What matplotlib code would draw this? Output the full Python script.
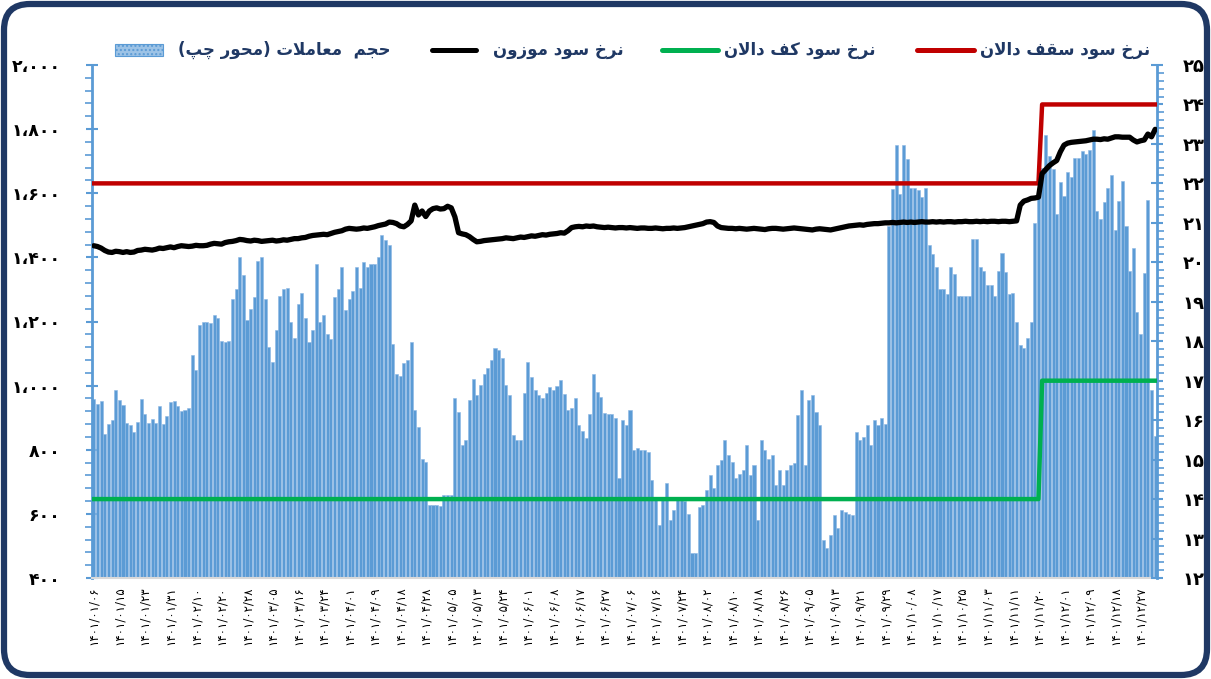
import matplotlib
matplotlib.use('Agg')
import matplotlib.pyplot as plt
from matplotlib.patches import FancyBboxPatch, Rectangle
from matplotlib.lines import Line2D
from matplotlib.ticker import FuncFormatter, MultipleLocator
import matplotlib.transforms as mtransforms

plt.rcParams['font.family'] = ['DejaVu Sans']

# ---- data ----
date_labels = ['۱۴۰۱/۰۱/۰۶', '۱۴۰۱/۰۱/۱۵', '۱۴۰۱/۰۱/۲۳', '۱۴۰۱/۰۱/۳۱', '۱۴۰۱/۰۲/۱۰', '۱۴۰۱/۰۲/۲۰',
               '۱۴۰۱/۰۲/۲۸', '۱۴۰۱/۰۳/۰۵', '۱۴۰۱/۰۳/۱۶', '۱۴۰۱/۰۳/۲۴', '۱۴۰۱/۰۴/۰۱', '۱۴۰۱/۰۴/۰۹',
               '۱۴۰۱/۰۴/۱۸', '۱۴۰۱/۰۴/۲۸', '۱۴۰۱/۰۵/۰۵', '۱۴۰۱/۰۵/۱۳', '۱۴۰۱/۰۵/۲۴', '۱۴۰۱/۰۶/۰۱',
               '۱۴۰۱/۰۶/۰۸', '۱۴۰۱/۰۶/۱۷', '۱۴۰۱/۰۶/۲۷', '۱۴۰۱/۰۷/۰۶', '۱۴۰۱/۰۷/۱۶', '۱۴۰۱/۰۷/۲۴',
               '۱۴۰۱/۰۸/۰۲', '۱۴۰۱/۰۸/۱۰', '۱۴۰۱/۰۸/۱۸', '۱۴۰۱/۰۸/۲۶', '۱۴۰۱/۰۹/۰۵', '۱۴۰۱/۰۹/۱۳',
               '۱۴۰۱/۰۹/۲۱', '۱۴۰۱/۰۹/۲۹', '۱۴۰۱/۱۰/۰۸', '۱۴۰۱/۱۰/۱۷', '۱۴۰۱/۱۰/۲۵', '۱۴۰۱/۱۱/۰۳',
               '۱۴۰۱/۱۱/۱۱', '۱۴۰۱/۱۱/۲۰', '۱۴۰۱/۱۲/۰۱', '۱۴۰۱/۱۲/۰۹', '۱۴۰۱/۱۲/۱۸', '۱۴۰۱/۱۲/۲۷']

# trading volume (left axis), one value per trading day
volume = [
    958, 944, 951, 849, 881, 892, 987, 956, 940, 883, 876, 854, 886, 959, 913, 883, 895, 883, 938, 880,
    906, 948, 952, 935, 922, 925, 930,
    1097, 1050, 1190, 1200, 1200, 1195, 1220, 1212, 1140, 1135, 1140, 1270, 1300, 1400, 1345, 1206, 1240, 1275,
    1390, 1400,
    1270, 1120, 1075, 1175, 1280, 1300, 1306, 1200, 1150, 1255, 1290, 1212, 1135, 1175, 1380,
    1200, 1220, 1160, 1145, 1275, 1300, 1370, 1237, 1270, 1295, 1370, 1306, 1385, 1370, 1380, 1380, 1400, 1470,
    1455, 1440,
    1130, 1035, 1030, 1072, 1080, 1135, 925, 870, 770, 762, 628, 628, 628, 625, 660, 660, 660,
    962, 919, 815, 830, 956, 1020, 972, 1003, 1035, 1056, 1080, 1118, 1112, 1087, 1003, 972, 847, 831, 831,
    978, 1075, 1028, 985, 972, 962, 978, 997, 985, 1000, 1018, 975, 925, 930, 960, 878, 860, 837, 910,
    1035, 981, 965, 915, 912, 912, 900, 712, 893, 878, 925, 800, 805, 800, 800, 793, 706, 650, 565, 643,
    697, 581, 612, 650, 650, 640, 600, 478, 478, 620, 628, 675, 722, 681, 753, 768, 831, 784, 762, 712,
    725, 737, 815, 722, 753, 581, 831, 800, 770, 784, 690, 737, 690, 737, 753, 760, 909, 987, 753, 956,
    972, 919, 878, 519, 494, 534, 597, 556, 612, 606, 600, 597, 856, 831, 840, 878, 815, 893, 878, 900,
    880,
    1497, 1612, 1751, 1597, 1751, 1708, 1617, 1617, 1610, 1587, 1617, 1440, 1410, 1370, 1300, 1300, 1285,
    1370, 1347, 1280, 1280, 1280, 1280, 1456, 1456, 1370, 1356, 1315, 1315, 1280, 1357, 1415, 1354, 1285,
    1290, 1200, 1128, 1118, 1150, 1200,
    1506, 1603, 1680, 1781, 1717, 1675, 1534, 1634, 1592, 1665, 1650, 1709, 1709, 1731, 1722, 1734, 1798,
    1545, 1519, 1573, 1616, 1658, 1484, 1576, 1637, 1498, 1357, 1430, 1230, 1160, 1350, 1580, 987, 842,
]

# weighted interbank rate (right axis, %)
rate_weighted = [
    20.42, 20.40, 20.36, 20.30, 20.26, 20.25, 20.28, 20.27, 20.25, 20.27, 20.25,
    20.26, 20.30, 20.31, 20.33, 20.32, 20.31, 20.33, 20.36, 20.35, 20.37, 20.39, 20.37, 20.40, 20.42, 20.41,
    20.40,
    20.41, 20.43, 20.42, 20.42, 20.43, 20.46, 20.48, 20.47, 20.46, 20.50, 20.52, 20.53, 20.55, 20.58, 20.57,
    20.55, 20.54, 20.56, 20.55, 20.53, 20.54, 20.55, 20.56, 20.54,
    20.55, 20.57, 20.56, 20.58, 20.60, 20.60, 20.62, 20.63, 20.66, 20.68, 20.69, 20.70, 20.71, 20.70, 20.73,
    20.76, 20.78, 20.80, 20.84, 20.86,
    20.85, 20.84, 20.85, 20.87, 20.86, 20.88, 20.90, 20.93, 20.95, 20.97, 21.02, 21.01, 20.98, 20.92, 20.90,
    20.96, 21.05, 21.45, 21.20, 21.30, 21.16, 21.30, 21.36, 21.38, 21.35, 21.36, 21.42, 21.38,
    21.15, 20.75, 20.72, 20.70, 20.65, 20.58, 20.52, 20.53, 20.55, 20.56, 20.57, 20.58, 20.59, 20.60, 20.62,
    20.61, 20.60, 20.62, 20.64, 20.63, 20.65, 20.67, 20.66, 20.68, 20.70, 20.69, 20.71, 20.72, 20.73, 20.75,
    20.74, 20.80, 20.88, 20.90, 20.91, 20.90, 20.92,
    20.91, 20.92, 20.90, 20.89, 20.88, 20.89, 20.88, 20.87, 20.88, 20.88, 20.87, 20.88, 20.87, 20.86, 20.87,
    20.87, 20.86, 20.86, 20.87, 20.86, 20.85, 20.86, 20.86, 20.87, 20.86, 20.87, 20.88, 20.90, 20.92, 20.94,
    20.96, 20.98, 21.02, 21.03, 21.01, 20.92, 20.88, 20.87, 20.86, 20.86,
    20.85, 20.86, 20.85, 20.84, 20.85, 20.86, 20.85, 20.84, 20.83, 20.85, 20.86, 20.86, 20.85, 20.84, 20.85,
    20.86, 20.87, 20.86, 20.85, 20.84, 20.83, 20.82, 20.84, 20.85, 20.84, 20.83, 20.82, 20.84, 20.86, 20.88,
    20.90, 20.92, 20.93, 20.94, 20.95, 20.94, 20.96, 20.97, 20.98, 20.98, 20.99, 21.00,
    21.00, 21.01, 21.00, 21.01, 21.02, 21.01, 21.02, 21.01, 21.02, 21.03, 21.02, 21.02, 21.03, 21.02, 21.03,
    21.02, 21.03, 21.03, 21.02, 21.03, 21.03, 21.04, 21.03, 21.03, 21.04, 21.03, 21.04, 21.03, 21.04, 21.04,
    21.03, 21.04, 21.04, 21.03, 21.04, 21.05,
    21.45, 21.55, 21.58, 21.62, 21.63, 21.65, 22.25, 22.35, 22.45, 22.52, 22.58, 22.80, 22.97, 23.02, 23.04,
    23.05, 23.06, 23.07, 23.08, 23.10, 23.12, 23.12, 23.11, 23.13, 23.12, 23.15, 23.18, 23.18, 23.17, 23.17,
    23.17, 23.10, 23.05, 23.08, 23.10, 23.25, 23.18, 23.37,
]

# corridor: ceiling and floor rates (%), and the day they changed
ceiling_rates = [22, 24]
floor_rates = [14, 17]
corridor_change = 260

n_days = len(volume)
days = list(range(n_days))
ceiling = [ceiling_rates[0] if d < corridor_change else ceiling_rates[1] for d in days]
floor_ = [floor_rates[0] if d < corridor_change else floor_rates[1] for d in days]

legend_labels = ['نرخ سود سقف دالان', 'نرخ سود کف دالان', 'نرخ سود موزون', 'حجم  معاملات (محور چپ)']

# ---- simple arabic shaping (matplotlib has no RTL/joining support) ----
FORMS = {
    'ا': ('\uFE8D', '\uFE8E', None, None), 'د': ('\uFEA9', '\uFEAA', None, None),
    'ر': ('\uFEAD', '\uFEAE', None, None), 'ز': ('\uFEAF', '\uFEB0', None, None),
    'و': ('\uFEED', '\uFEEE', None, None),
    'ب': ('\uFE8F', '\uFE90', '\uFE91', '\uFE92'), 'ت': ('\uFE95', '\uFE96', '\uFE97', '\uFE98'),
    'ج': ('\uFE9D', '\uFE9E', '\uFE9F', '\uFEA0'), 'ح': ('\uFEA1', '\uFEA2', '\uFEA3', '\uFEA4'),
    'خ': ('\uFEA5', '\uFEA6', '\uFEA7', '\uFEA8'), 'س': ('\uFEB1', '\uFEB2', '\uFEB3', '\uFEB4'),
    'ع': ('\uFEC9', '\uFECA', '\uFECB', '\uFECC'), 'ف': ('\uFED1', '\uFED2', '\uFED3', '\uFED4'),
    'ق': ('\uFED5', '\uFED6', '\uFED7', '\uFED8'), 'ل': ('\uFEDD', '\uFEDE', '\uFEDF', '\uFEE0'),
    'م': ('\uFEE1', '\uFEE2', '\uFEE3', '\uFEE4'), 'ن': ('\uFEE5', '\uFEE6', '\uFEE7', '\uFEE8'),
    'ک': ('\uFB8E', '\uFB8F', '\uFB90', '\uFB91'), 'چ': ('\uFB7A', '\uFB7B', '\uFB7C', '\uFB7D'),
    'پ': ('\uFB56', '\uFB57', '\uFB58', '\uFB59'),
}
RIGHT_ONLY = set('ادرزو')


def shape(text):
    out = []
    i = 0
    while i < len(text):
        c = text[i]
        if c not in FORMS:
            out.append(c)
            i += 1
            continue
        prev = text[i - 1] if i > 0 else ''
        prev_j = prev in FORMS and prev not in RIGHT_ONLY
        if c == 'ل' and i + 1 < len(text) and text[i + 1] == 'ا':
            out.append('\uFEFC' if prev_j else '\uFEFB')
            i += 2
            continue
        nxt = text[i + 1] if i + 1 < len(text) else ''
        next_j = c not in RIGHT_ONLY and nxt in FORMS
        iso, fin, ini, med = FORMS[c]
        if prev_j and next_j:
            out.append(med)
        elif prev_j:
            out.append(fin)
        elif next_j:
            out.append(ini)
        else:
            out.append(iso)
        i += 1
    mirror = {'(': ')', ')': '('}
    return ''.join(mirror.get(ch, ch) for ch in reversed(out))


FA = str.maketrans('0123456789,', '۰۱۲۳۴۵۶۷۸۹،')

# ---- figure ----
W, H = 1211, 679
fig = plt.figure(figsize=(W / 100, H / 100), dpi=100)

navy = '#1F3864'
blue = '#5B9BD5'

ax = fig.add_axes([92 / W, 1 - 578 / H, (1157 - 92) / W, (578 - 65) / H])
ax.bar(days, volume, width=0.84, color=blue, edgecolor='#8DB8E4', linewidth=0.4, zorder=2)
ax.set_xlim(-0.5, n_days - 0.5)
ax.set_ylim(400, 2000)
ax.yaxis.set_major_locator(MultipleLocator(200))
ax.yaxis.set_minor_locator(MultipleLocator(40))
ax.yaxis.set_major_formatter(FuncFormatter(lambda v, p: f'{int(v):,}'.translate(FA)))
ax.set_xticks(range(0, n_days, 7))
ax.set_xticklabels(date_labels, rotation=90, fontsize=8.5)
ax.tick_params(axis='x', length=0, pad=6)
ax.tick_params(axis='y', which='major', direction='inout', length=9, width=1.5, color=blue,
               pad=18, labelsize=12.5)
ax.tick_params(axis='y', which='minor', direction='out', length=5, width=1.2, color=blue)
for lab in ax.get_yticklabels():
    lab.set_fontweight('bold')
for s in ['top', 'right']:
    ax.spines[s].set_visible(False)
ax.spines['left'].set_color(blue)
ax.spines['left'].set_linewidth(2)
ax.spines['bottom'].set_color('#D9D9D9')
ax.spines['bottom'].set_linewidth(1.5)

ax2 = ax.twinx()
ax2.set_ylim(12, 25)
ax2.plot(days, ceiling, color='#C00000', lw=3.2, zorder=3)
ax2.plot(days, floor_, color='#00B050', lw=3.2, zorder=3)
ax2.plot(days, rate_weighted, color='black', lw=3.8, zorder=4, solid_capstyle='round')
ax2.yaxis.set_major_locator(MultipleLocator(1))
ax2.yaxis.set_minor_locator(MultipleLocator(0.2))
ax2.yaxis.set_major_formatter(FuncFormatter(lambda v, p: str(int(round(v))).translate(FA)))
ax2.tick_params(axis='y', which='major', direction='inout', length=9, width=1.5, color=blue,
                pad=14, labelsize=13)
ax2.tick_params(axis='y', which='minor', direction='out', length=5, width=1.2, color=blue)
for lab in ax2.get_yticklabels():
    lab.set_fontweight('bold')
for s in ['top', 'left', 'bottom']:
    ax2.spines[s].set_visible(False)
ax2.spines['right'].set_color(blue)
ax2.spines['right'].set_linewidth(2)

# ---- legend drawn by hand (right-to-left labels) ----
ly = 1 - 50 / H
px = lambda x: x / W
items = [('line', '#C00000', 917, 974, 980), ('line', '#00B050', 662, 718, 724),
         ('line', 'black', 432, 476, 493), ('patch', blue, 115, 163, 178)]
for (kind, col, x0, x1, tx), lab in zip(items, legend_labels):
    if kind == 'line':
        fig.add_artist(Line2D([px(x0), px(x1)], [ly, ly], color=col, lw=3.6,
                              solid_capstyle='round', transform=fig.transFigure))
    else:
        fig.add_artist(Rectangle((px(x0), ly - 6 / H), px(x1 - x0), 12 / H, transform=fig.transFigure,
                                 facecolor='#9DC3E6', edgecolor=blue, hatch='....', lw=0.8))
    fig.text(px(tx), ly, shape(lab), ha='left', va='center', fontsize=12, fontweight='bold', color=navy)

# rounded frame
frame = FancyBboxPatch((4, 4), W - 8, H - 8, boxstyle='round,pad=0,rounding_size=26',
                       transform=mtransforms.IdentityTransform(), facecolor='none',
                       edgecolor=navy, linewidth=4.5)
fig.add_artist(frame)

fig.savefig('out.png', dpi=100)
